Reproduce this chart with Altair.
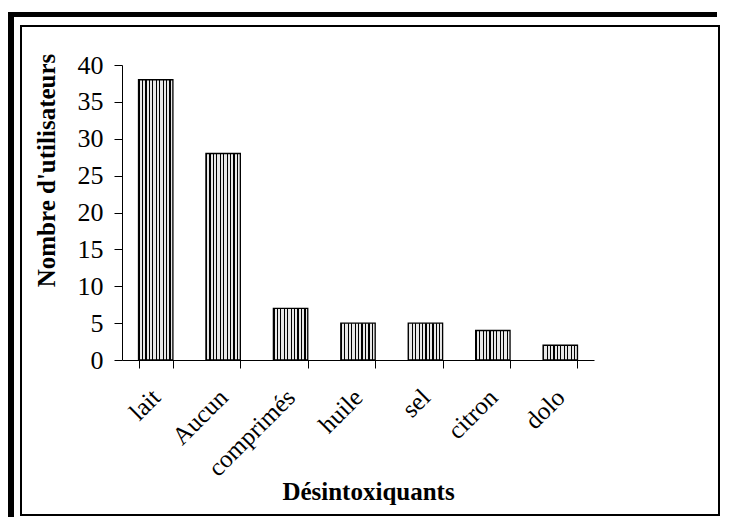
import altair as alt
import pandas as pd

categories = ["lait", "Aucun", "comprimés", "huile", "sel", "citron", "dolo"]
values = [38, 28, 7, 5, 5, 4, 2]

df = pd.DataFrame({"cat": categories, "val": values})

FONT = "Liberation Serif"

# vertical hatch pattern made from a hard-stop linear gradient
stops = []
n = 10
for i in range(n):
    a = i / n
    b = (i + 0.35) / n
    c = (i + 1) / n
    stops += [
        alt.GradientStop(offset=a, color="#000000"),
        alt.GradientStop(offset=b, color="#000000"),
        alt.GradientStop(offset=b, color="#e8e8e8"),
        alt.GradientStop(offset=c, color="#e8e8e8"),
    ]
hatch = alt.Gradient(gradient="linear", stops=stops, x1=0, x2=1, y1=0, y2=0)

bars = alt.Chart(df).mark_bar(
    color=hatch, stroke="black", strokeWidth=1.3
).encode(
    x=alt.X(
        "cat:N",
        sort=categories,
        scale=alt.Scale(paddingInner=0.49, paddingOuter=0.245),
        axis=alt.Axis(
            title="Désintoxiquants",
            titleFont=FONT, titleFontSize=25, titleFontWeight="bold", titleColor="black",
            titleX=246, titleY=139, titleBaseline="alphabetic", titleAlign="center",
            labelFont=FONT, labelFontSize=25, labelColor="black",
            labelAngle=-45, labelAlign="right", labelBaseline="middle", labelPadding=25,
            tickBand="extent", tickSize=8, tickColor="black", tickWidth=1,
            domainColor="black", domainWidth=1, grid=False, labelOverlap=False,
        ),
    ),
    y=alt.Y(
        "val:Q",
        scale=alt.Scale(domain=[0, 40], nice=False),
        axis=alt.Axis(
            title="Nombre d'utilisateurs",
            titleFont=FONT, titleFontSize=25, titleFontWeight="bold", titleColor="black",
            titleX=-68, titleY=105, titleAngle=-90, titleAlign="center", titleBaseline="alphabetic",
            values=[0, 5, 10, 15, 20, 25, 30, 35, 40],
            labelFont=FONT, labelFontSize=26, labelColor="black", labelPadding=11,
            tickSize=8, tickColor="black", tickWidth=1,
            domainColor="black", domainWidth=1, grid=False, labelOverlap=False,
        ),
    ),
)

one = alt.Data(values=[{"k": 1}])

thick_top = alt.Chart(one).mark_rect(color="black").encode(
    x=alt.value(-114), x2=alt.value(595), y=alt.value(-53), y2=alt.value(-48)
)
thick_left = alt.Chart(one).mark_rect(color="black").encode(
    x=alt.value(-114), x2=alt.value(-108), y=alt.value(-53), y2=alt.value(452)
)
inner = alt.Chart(one).mark_rect(fill=None, stroke="black", strokeWidth=2).encode(
    x=alt.value(-101), x2=alt.value(597), y=alt.value(-39), y2=alt.value(450)
)

chart = alt.layer(thick_top, thick_left, inner, bars).properties(
    width=472, height=295,
    autosize=alt.AutoSizeParams(type="none"),
    padding={"left": 114, "top": 57, "right": 127, "bottom": 157},
    background="white",
).configure_view(stroke=None)

chart.save("out.html", embed_options={"renderer": "svg", "actions": False})
